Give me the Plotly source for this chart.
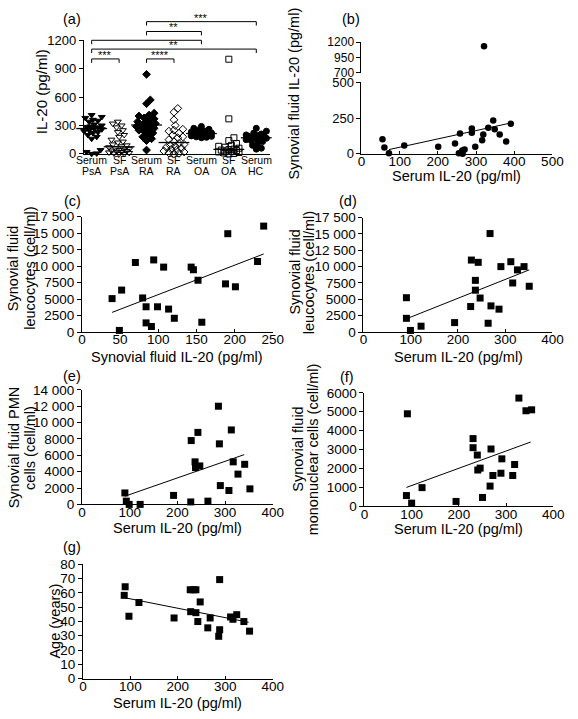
import numpy as np
import plotly.graph_objects as go

# ---------------- DATA ----------------
# Panel (a): IL-20 (pg/ml) by group
groups_a = ["Serum<br>PsA", "SF<br>PsA", "Serum<br>RA", "SF<br>RA", "Serum<br>OA", "SF<br>OA", "Serum<br>HC"]
serum_psa = [410, 390, 380, 360, 350, 340, 320, 310, 300, 290, 285, 280, 270, 265, 260, 250, 240, 230, 220, 200, 180, 160, 40, 20, 5, 0]
sf_psa = [340, 320, 300, 280, 250, 230, 200, 180, 150, 130, 120, 100, 90, 80, 70, 60, 50, 45, 40, 35, 30, 25, 20, 15, 10, 5, 0, 0]
serum_ra = [840, 570, 530, 430, 410, 400, 380, 370, 350, 340, 330, 320, 310, 300, 290, 280, 270, 260, 250, 240, 220, 200, 180, 160, 140, 40]
sf_ra = [480, 440, 360, 300, 260, 250, 240, 220, 200, 180, 170, 150, 130, 110, 100, 90, 80, 70, 60, 50, 40, 30, 20, 10, 5, 0]
serum_oa = [290, 270, 260, 250, 240, 230, 225, 220, 215, 210, 200, 195, 190, 185, 180, 175, 170]
sf_oa = [1000, 370, 170, 140, 110, 90, 80, 70, 60, 50, 45, 40, 35, 30, 25, 20, 15, 10, 5, 0]
serum_hc = [270, 240, 220, 210, 200, 195, 190, 185, 180, 170, 165, 160, 150, 140, 130, 110, 90, 60, 50]
sig_pairs = [(2, 6, 1397, "***"), (2, 4, 1293, "**"), (0, 4, 1200, ""), (0, 6, 1107, "**"),
             (0, 1, 1003, "***"), (2, 3, 1003, "****")]

# Panel (b): serum vs synovial fluid IL-20
b_serum = [55, 60, 72, 112, 201, 245, 258, 255, 264, 265, 270, 289, 289, 298, 316, 319, 332, 345, 349, 362, 379, 391]
b_sf = [102, 45, 5, 59, 50, 73, 143, 5, 23, 0, 30, 177, 148, 50, 95, 136, 182, 234, 173, 136, 86, 211]
b_out_serum = [321]
b_out_sf = [1135]
b_fit_x = [72, 391]
b_fit_y = [30, 216]

# Panel (c): SF IL-20 vs SF leucocytes
c_x = [39.5, 52, 49, 70, 79.5, 84, 84, 91, 94, 99, 107, 113.5, 121, 143, 146, 152, 157, 188, 191, 201, 230, 238]
c_y = [5070, 6360, 250, 10540, 5170, 3830, 1390, 845, 10930, 3830, 9840, 3480, 2090, 9840, 9440, 7850, 1490, 7300, 14900, 6860, 10690, 16050]
c_fit_x = [39.5, 238]
c_fit_y = [2980, 11830]

# Panel (d): serum IL-20 vs SF leucocytes
d_x = [91, 91, 99.5, 122, 193, 227, 228.5, 237, 237, 243, 247, 264, 268, 270, 287, 291, 312, 316, 326, 340, 351]
d_y = [5250, 2100, 250, 900, 1450, 3900, 11000, 7900, 6400, 10650, 5200, 1350, 15050, 4000, 3500, 10000, 10750, 7500, 9500, 10000, 7000]
d_fit_x = [90, 351]
d_fit_y = [2000, 9500]

# Panel (e): serum IL-20 vs SF PMN cells
e_x = [90, 93, 99, 122, 192, 228, 229, 237, 238, 243, 247, 264, 286, 288, 290, 308, 313, 317, 327, 341, 352]
e_y = [1400, 400, 0, 0, 1100, 300, 7800, 5200, 4500, 8800, 4700, 400, 12000, 7400, 2300, 1700, 9100, 5200, 3700, 4900, 1900]
e_fit_x = [90, 340]
e_fit_y = [1000, 6080]

# Panel (f): serum IL-20 vs SF mononuclear cells
f_x = [89, 91, 100, 122, 194, 230, 230, 239, 240, 245, 250, 266, 268, 272, 289, 291, 314, 318, 327, 342, 354]
f_y = [570, 4890, 170, 990, 260, 3580, 3100, 2710, 1920, 2020, 470, 1070, 3030, 1630, 1750, 2510, 1630, 2210, 5720, 5050, 5100]
f_fit_x = [89, 352]
f_fit_y = [1000, 3400]

# Panel (g): serum IL-20 vs age
g_x = [89, 87, 97, 118, 192, 227, 226, 233, 238, 238, 242, 247, 263, 268, 286, 288, 288, 311, 316, 324, 339, 351]
g_y = [64.2, 58.2, 43.6, 53.2, 42.4, 46.8, 62.1, 62.1, 62.1, 46.1, 39.9, 53.6, 35.5, 42.4, 29.6, 69.2, 34.2, 43.1, 41.5, 44.7, 39.9, 33.2]
g_fit_x = [87, 349]
g_fit_y = [56.6, 39.4]

# ---------------- LAYOUT HELPERS ----------------
W, H = 578, 719
FONT = "Liberation Sans, Arial, Helvetica, sans-serif"


def fx(px):
    return px / W


def fy(py):
    return 1 - py / H


def swarm(vals, ppu, ppc, d=5.0, step=1.3, maxoff=11):
    order = sorted(range(len(vals)), key=lambda i: vals[i])
    placed = []
    offs = [0.0] * len(vals)
    cands = [0.0]
    k = 1
    while k * step <= maxoff:
        cands += [k * step, -k * step]
        k += 1
    for i in order:
        yv = vals[i] * ppu
        chosen = None
        best, bestd = 0.0, -1
        for o in cands:
            md = min([((o - po) ** 2 + (yv - py) ** 2) ** 0.5 for po, py in placed] or [99])
            if md >= d:
                chosen = o
                break
            if md > bestd:
                best, bestd = o, md
        if chosen is None:
            chosen = best
        placed.append((chosen, yv))
        offs[i] = chosen / ppc
    return offs


fig = go.Figure()

ycommon = dict(showline=True, linecolor="black", linewidth=1, ticks="outside", ticklen=4,
               tickcolor="black", tickwidth=1, showgrid=False, zeroline=False,
               tickfont=dict(family=FONT, size=13.5, color="black"))
xcommon = dict(showline=True, linecolor="black", linewidth=1, ticks="inside", ticklen=3,
               tickcolor="black", tickwidth=1, showgrid=False, zeroline=False, ticklabelstandoff=-5,
               tickfont=dict(family=FONT, size=13.5, color="black"))

# ---------------- PANEL (a) ----------------
a_vals = [serum_psa, sf_psa, serum_ra, sf_ra, serum_oa, sf_oa, serum_hc]
a_sym = ["triangle-down", "triangle-down-open", "diamond", "diamond-open", "circle", "square-open", "circle"]
a_px = (82, 273)
a_py = (150, 34)
ppc = (259 - 90) / 6.0
ppu = (a_py[0] - a_py[1]) / 1200.0
for gi, vals in enumerate(a_vals):
    offs = swarm(vals, ppu, ppc)
    xs = [gi + o for o in offs]
    fig.add_trace(go.Scatter(x=xs, y=vals, mode="markers", xaxis="x", yaxis="y", cliponaxis=False,
                             marker=dict(symbol=a_sym[gi], size=6, color="black",
                                         line=dict(width=1, color="black"))))
    fig.add_trace(go.Scatter(x=[gi], y=[float(np.median(vals))], mode="markers", xaxis="x", yaxis="y",
                             cliponaxis=False,
                             marker=dict(symbol="line-ew", size=22, line=dict(width=1.3, color="black"))))

yc_a = {k: v for k, v in ycommon.items() if k != "tickfont"}
fig.update_layout(
    xaxis=dict(domain=[fx(a_px[0]), fx(a_px[1])], anchor="y", range=[-8 / ppc, 6 + 14 / ppc],
               showline=True, linecolor="black", linewidth=1, ticks="", showticklabels=False,
               showgrid=False, zeroline=False),
    yaxis=dict(domain=[fy(a_py[0]), fy(a_py[1])], anchor="x", range=[0, 1200],
               tickvals=[0, 300, 600, 900, 1200], tickfont=dict(family=FONT, size=13, color="black"), **yc_a),
)

shapes = []
annotations = []
tick_d = 4 / (a_py[0] - a_py[1])
for (i, j, lv, lab) in sig_pairs:
    yy = lv / 1200.0
    shapes.append(dict(type="line", xref="x", yref="y domain", x0=i, x1=j, y0=yy, y1=yy,
                       line=dict(color="black", width=1)))
    for xe in (i, j):
        shapes.append(dict(type="line", xref="x", yref="y domain", x0=xe, x1=xe, y0=yy, y1=yy - tick_d,
                           line=dict(color="black", width=1)))
    if lab:
        annotations.append(dict(text=lab, xref="x", yref="y domain", x=(i + j) / 2.0, y=yy,
                                yanchor="bottom", yshift=-4, showarrow=False,
                                font=dict(family=FONT, size=11, color="black")))

for gi, g in enumerate(groups_a):
    l1, l2 = g.split("<br>")
    for t, ypx in ((l1, 156.5), (l2, 167.5)):
        annotations.append(dict(text=t, xref="x", yref="paper", x=gi, y=fy(ypx), showarrow=False,
                                xanchor="center", yanchor="middle",
                                font=dict(family=FONT, size=10.5, color="black")))

# ---------------- PANEL (b) ----------------
fig.add_trace(go.Scatter(x=b_serum, y=b_sf, mode="markers", xaxis="x2", yaxis="y2", cliponaxis=False,
                         marker=dict(symbol="circle", size=6.5, color="black")))
fig.add_trace(go.Scatter(x=b_fit_x, y=b_fit_y, mode="lines", xaxis="x2", yaxis="y2",
                         line=dict(color="black", width=1)))
fig.add_trace(go.Scatter(x=b_out_serum, y=b_out_sf, mode="markers", xaxis="x2", yaxis="y3", cliponaxis=False,
                         marker=dict(symbol="circle", size=6.5, color="black")))

# ---------------- SCATTER PANELS c-g ----------------
scat = [
    ("x3", "y4", c_x, c_y, c_fit_x, c_fit_y),
    ("x4", "y5", d_x, d_y, d_fit_x, d_fit_y),
    ("x5", "y6", e_x, e_y, e_fit_x, e_fit_y),
    ("x6", "y7", f_x, f_y, f_fit_x, f_fit_y),
    ("x7", "y8", g_x, g_y, g_fit_x, g_fit_y),
]
for xa, ya, xs, ys, fxs, fys in scat:
    fig.add_trace(go.Scatter(x=xs, y=ys, mode="markers", xaxis=xa, yaxis=ya, cliponaxis=False,
                             marker=dict(symbol="square", size=7, color="black")))
    fig.add_trace(go.Scatter(x=fxs, y=fys, mode="lines", xaxis=xa, yaxis=ya,
                             line=dict(color="black", width=1)))


def fmt(v):
    s = str(int(v))
    if len(s) >= 5:
        return s[:-3] + " " + s[-3:]
    return s


def yticks(vals):
    return dict(tickvals=vals, ticktext=[fmt(v) for v in vals])


leuc_ticks = list(range(0, 17501, 2500))
pmn_ticks = list(range(0, 14001, 2000))
mono_ticks = list(range(0, 6001, 1000))
age_ticks = list(range(0, 81, 10))
serum_ticks = [0, 100, 200, 300, 400]

yc_top = {k: v for k, v in ycommon.items() if k != "tickfont"}
fig.update_layout(
    xaxis2=dict(domain=[fx(367), fx(563)], anchor="y2", range=[0, 500], tickvals=[0, 100, 200, 300, 400, 500],
                **xcommon),
    yaxis2=dict(domain=[fy(150), fy(77)], anchor="x2", range=[0, 500], tickvals=[0, 250, 500],
                tickfont=dict(family=FONT, size=13, color="black"), **yc_top),
    yaxis3=dict(domain=[fy(67), fy(36)], anchor="x2", range=[700, 1200], tickvals=[700, 950, 1200],
                tickfont=dict(family=FONT, size=12, color="black"), **yc_top),
    xaxis3=dict(domain=[fx(80), fx(276)], anchor="y4", range=[0, 250], tickvals=[0, 50, 100, 150, 200, 250],
                **xcommon),
    yaxis4=dict(domain=[fy(332), fy(214)], anchor="x3", range=[0, 17500], **yticks(leuc_ticks), **ycommon),
    xaxis4=dict(domain=[fx(369), fx(563)], anchor="y5", range=[0, 400], tickvals=serum_ticks, **xcommon),
    yaxis5=dict(domain=[fy(332), fy(215)], anchor="x4", range=[0, 17500], **yticks(leuc_ticks), **ycommon),
    xaxis5=dict(domain=[fx(80), fx(276)], anchor="y6", range=[0, 400], tickvals=serum_ticks, **xcommon),
    yaxis6=dict(domain=[fy(508), fy(391)], anchor="x5", range=[0, 14000], **yticks(pmn_ticks), **ycommon),
    xaxis6=dict(domain=[fx(370), fx(564)], anchor="y7", range=[0, 400], tickvals=serum_ticks, **xcommon),
    yaxis7=dict(domain=[fy(510), fy(394)], anchor="x6", range=[0, 6000], **yticks(mono_ticks), **ycommon),
    xaxis7=dict(domain=[fx(81), fx(276)], anchor="y8", range=[0, 400], tickvals=serum_ticks, **xcommon),
    yaxis8=dict(domain=[fy(686), fy(569)], anchor="x7", range=[0, 80], tickvals=age_ticks, **ycommon),
)

# ---------------- TEXT ----------------
TF = dict(family=FONT, size=14.5, color="black")


def txt(t, px, py, angle=0, size=None):
    f = dict(TF)
    if size:
        f["size"] = size
    annotations.append(dict(text=t, xref="paper", yref="paper", x=fx(px), y=fy(py), showarrow=False,
                            xanchor="center", yanchor="middle", textangle=angle, font=f))


for lab, px, py in [("(a)", 70, 12), ("(b)", 356, 12), ("(c)", 70, 198), ("(d)", 353, 198),
                    ("(e)", 70, 377), ("(f)", 352, 378), ("(g)", 70, 552)]:
    txt(lab, px, py)

txt("IL-20 (pg/ml)", 38, 87, -90, 15)
txt("Synovial fluid IL-20 (pg/ml)", 298, 88, -90)
txt("Serum IL-20 (pg/ml)", 465, 173)
txt("Synovial fluid", 10, 267, -90)
txt("leucocytes (cell/ml)", 27, 267, -90)
txt("Synovial fluid IL-20 (pg/ml)", 178, 357)
txt("Synovial fluid", 299, 271, -90)
txt("leucocytes (cell/ml)", 313, 271, -90)
txt("Serum IL-20 (pg/ml)", 467, 357)
txt("Synovial fluid PMN", 10, 450, -90)
txt("cells (cell/ml)", 26, 450, -90)
txt("Serum IL-20 (pg/ml)", 178, 532)
txt("Synovial fluid", 301, 452, -90)
txt("mononuclear cells (cell/ml)", 317, 452, -90)
txt("Serum IL-20 (pg/ml)", 467, 533)
txt("Age (years)", 52, 627, -90)
txt("Serum IL-20 (pg/ml)", 178, 711)

fig.update_layout(width=W, height=H, margin=dict(l=0, r=0, t=0, b=0), paper_bgcolor="white",
                  plot_bgcolor="white", showlegend=False, shapes=shapes, annotations=annotations,
                  font=dict(family=FONT, color="black"))

fig.write_html("out.html", config={"displayModeBar": False},
               post_script="document.body.style.margin='0';document.body.style.overflow='hidden';")
